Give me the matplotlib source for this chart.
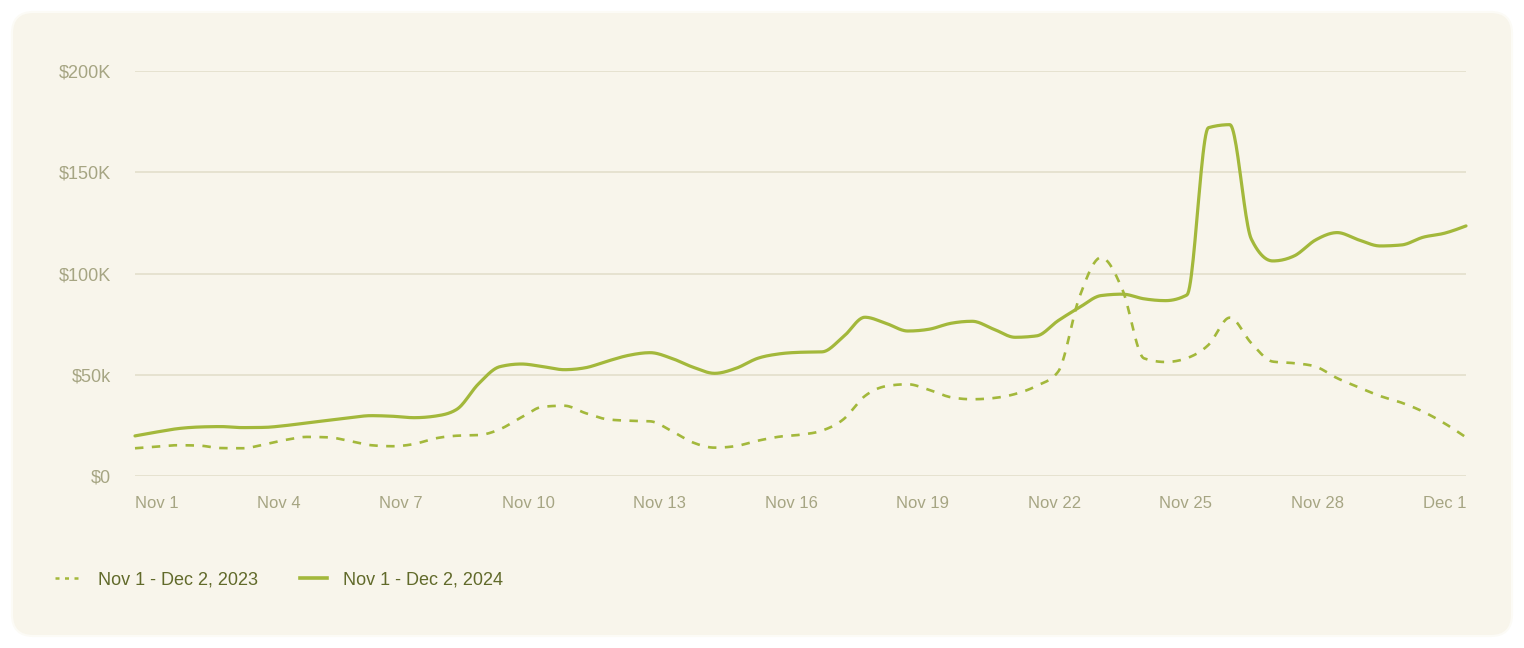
import numpy as np
import matplotlib.pyplot as plt
from matplotlib.patches import FancyBboxPatch
from matplotlib.lines import Line2D

# readings, every half day, in $K
sales_2024 = [19.8, 21.7, 23.4, 24.2, 24.4, 23.9, 24.0, 24.9, 26.2, 27.5,
              28.8, 29.8, 29.5, 28.8, 29.6, 33.0, 45.5, 54.0, 55.3, 54.0,
              52.5, 53.5, 56.7, 59.6, 60.9, 58.1, 53.7, 50.7, 53.2, 58.1,
              60.3, 61.1, 61.3, 68.8, 78.4, 75.3, 71.6, 72.5, 75.4, 76.4,
              72.5, 68.5, 69.2, 76.7, 83.3, 89.1, 89.8, 87.5, 86.6, 89.4,
              172.0, 173.5, 117.0, 106.2, 108.7, 116.6, 120.2, 116.6, 113.6, 114.1,
              117.9, 119.9, 123.5]
sales_2023 = [13.7, 14.5, 15.2, 15.0, 13.8, 13.7, 15.5, 17.8, 19.3, 19.1,
              17.3, 15.2, 14.7, 15.8, 18.6, 19.9, 20.2, 23.1, 29.0, 34.2,
              34.7, 31.0, 28.0, 27.3, 27.0, 22.2, 16.5, 14.0, 14.8, 17.4,
              19.4, 20.4, 22.4, 28.0, 39.5, 44.4, 45.3, 42.5, 38.9, 37.9,
              38.5, 40.5, 44.5, 51.5, 88.6, 107.9, 91.9, 58.1, 56.3, 58.2,
              64.7, 78.2, 65.6, 56.5, 55.7, 54.0, 48.3, 43.8, 39.5, 36.2,
              31.8, 26.0, 19.1]
tick_labels = ['Nov 1', 'Nov 4', 'Nov 7', 'Nov 10', 'Nov 13', 'Nov 16',
               'Nov 19', 'Nov 22', 'Nov 25', 'Nov 28', 'Dec 1']
y_ticks = [0, 50, 100, 150, 200]
y_labels = ['$0', '$50k', '$100K', '$150K', '$200K']
series_names = ['Nov 1 - Dec 2, 2023', 'Nov 1 - Dec 2, 2024']

GREEN = '#a3b83b'
MUTED = '#a6a583'
DARK = '#616a2a'


def monotone_curve(x, y, n=24):
    # monotone cubic (Steffen) like d3.curveMonotoneX
    x = np.asarray(x, float)
    y = np.asarray(y, float)
    h = np.diff(x)
    s = np.diff(y) / h
    m = np.zeros_like(y)
    p = (s[:-1] * h[1:] + s[1:] * h[:-1]) / (h[:-1] + h[1:])
    m[1:-1] = (np.sign(s[:-1]) + np.sign(s[1:])) * np.minimum(
        np.minimum(np.abs(s[:-1]), np.abs(s[1:])), 0.5 * np.abs(p))
    m[0] = (3 * s[0] - m[1]) / 2
    m[-1] = (3 * s[-1] - m[-2]) / 2
    xs, ys = [], []
    t = np.linspace(0, 1, n, endpoint=False)
    for i in range(len(h)):
        h00 = 2 * t**3 - 3 * t**2 + 1
        h10 = t**3 - 2 * t**2 + t
        h01 = -2 * t**3 + 3 * t**2
        h11 = t**3 - t**2
        xs.append(x[i] + t * h[i])
        ys.append(h00 * y[i] + h10 * h[i] * m[i] + h01 * y[i + 1] + h11 * h[i] * m[i + 1])
    xs.append([x[-1]])
    ys.append([y[-1]])
    return np.concatenate(xs), np.concatenate(ys)


plt.rcParams['font.family'] = ['Liberation Sans', 'DejaVu Sans']

W, H = 1524, 648
fig = plt.figure(figsize=(W / 100, H / 100), dpi=100, facecolor='white')

card = FancyBboxPatch((12 / W, 12 / H), 1500 / W, 624 / H,
                      boxstyle='round,pad=0,rounding_size=0.014',
                      transform=fig.transFigure, facecolor='#f8f5eb',
                      edgecolor='#fcfbf6', linewidth=1.5, mutation_aspect=W / H,
                      zorder=-10)
fig.patches.append(card)

ax = fig.add_axes([135 / W, 1 - 476 / H, 1331 / W, 405 / H])
ax.set_facecolor('none')
ax.set_zorder(2)

days = np.arange(len(sales_2024)) / 2.0
x24, y24 = monotone_curve(days, sales_2024)
x23, y23 = monotone_curve(days, sales_2023)

ax.plot(x23, y23, color=GREEN, lw=1.9, linestyle=(0, (3.2, 3.2)),
        clip_on=False, zorder=3)
ax.plot(x24, y24, color=GREEN, lw=2.3, clip_on=False, zorder=4,
        solid_capstyle='round')

ax.set_xlim(0, days[-1])
ax.set_ylim(0, 200)
ax.set_yticks(y_ticks)
ax.set_yticklabels(y_labels)
ax.set_xticks([])
ax.tick_params(axis='y', length=0, pad=17, labelsize=13, labelcolor=MUTED)
ax.grid(axis='y', color='#e3dfcb', lw=1.2)
for sp in ax.spines.values():
    sp.set_visible(False)

# x labels spread edge to edge with equal gaps
texts = [fig.text(0, 1 - 504 / H, lab, fontsize=12, color=MUTED,
                  ha='left', va='center') for lab in tick_labels]
fig.canvas.draw()
rend = fig.canvas.get_renderer()
widths = [t.get_window_extent(rend).width for t in texts]
gap = (1331 - sum(widths)) / (len(texts) - 1)
pos = 135.0
for t, w in zip(texts, widths):
    t.set_x(pos / W)
    pos += w + gap

handles = [Line2D([], [], color=GREEN, lw=1.8, linestyle=(0, (1.6, 2.2))),
           Line2D([], [], color=GREEN, lw=2.6)]
leg = fig.legend(handles, series_names, loc='center left',
                 bbox_to_anchor=(55 / W, 1 - 580 / H), ncol=2, frameon=False,
                 fontsize=13, handlelength=1.5, handletextpad=0.9,
                 columnspacing=2.3, borderpad=0, borderaxespad=0)
for t in leg.get_texts():
    t.set_color(DARK)

fig.savefig('out.png', dpi=100, facecolor='white')
